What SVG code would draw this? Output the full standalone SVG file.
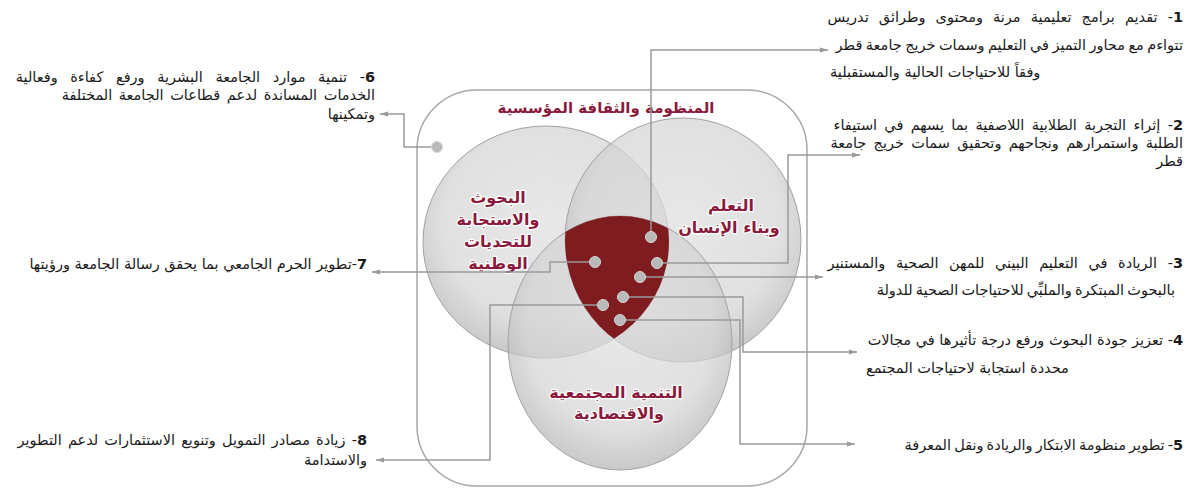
<svg xmlns="http://www.w3.org/2000/svg" width="1196" height="490" viewBox="0 0 1196 490">
<defs>
<style>
.side{font-family:"DejaVu Sans",sans-serif;font-size:14.5px;fill:#1a1a1a}
.num{font-weight:bold}
.lbl{font-family:"DejaVu Sans",sans-serif;font-weight:bold;font-size:16px;fill:#8a1a3c;stroke:#ffffff;stroke-width:2.5;paint-order:stroke;stroke-linejoin:round;text-anchor:middle}
.ttl{font-size:15px}
.con{fill:none;stroke:#9a9a9a;stroke-width:1.5}
.dot{fill:#b9b9b9;stroke:#d6d6d6;stroke-width:1}
.circ{fill:url(#gC);fill-opacity:0.7;stroke:#a2a2a2;stroke-width:1}
</style>
<radialGradient id="gC" cx="0.5" cy="0.42" r="0.58">
<stop offset="0" stop-color="#dedede"/>
<stop offset="0.72" stop-color="#d3d3d3"/>
<stop offset="1" stop-color="#b2b2b2"/>
</radialGradient>
<marker id="ah" markerWidth="8" markerHeight="6" refX="8" refY="3" orient="auto" markerUnits="userSpaceOnUse">
<path d="M0,0.5 L8,3 L0,5.5 z" fill="#9a9a9a"/>
</marker>
<clipPath id="cL"><ellipse cx="546" cy="242" rx="123" ry="116"/></clipPath>
<clipPath id="cR"><ellipse cx="683" cy="240" rx="118" ry="122"/></clipPath>
</defs>
<rect width="1196" height="490" fill="#ffffff"/>

<g id="frame">
<rect x="417" y="90" width="390" height="396" rx="60" ry="60" fill="none" stroke="#a8a8a8" stroke-width="1.5"/>
<text class="lbl ttl" x="606" y="113">المنظومة والثقافة المؤسسية</text>
</g>

<g id="circle-research">
<ellipse class="circ" cx="546" cy="242" rx="123" ry="116"/>
</g>
<g id="circle-learning">
<ellipse class="circ" cx="683" cy="240" rx="118" ry="122"/>
</g>
<g id="circle-community">
<ellipse class="circ" cx="620" cy="343" rx="112" ry="127"/>
</g>
<g id="core">
<g clip-path="url(#cL)"><g clip-path="url(#cR)">
<ellipse cx="620" cy="343" rx="112" ry="127" fill="#7f1c1f"/>
</g></g>
</g>
<g id="labels">
<text class="lbl" x="498" y="203">البحوث</text>
<text class="lbl" x="498" y="225">والاستجابة</text>
<text class="lbl" x="498" y="247">للتحديات</text>
<text class="lbl" x="498" y="269">الوطنية</text>
<text class="lbl" x="731" y="211">التعلم</text>
<text class="lbl" x="729" y="233">وبناء الإنسان</text>
<text class="lbl" x="616" y="398">التنمية المجتمعية</text>
<text class="lbl" x="619" y="419">والاقتصادية</text>
</g>

<g id="connectors">
<path class="con" d="M651,237 V50 H828" marker-end="url(#ah)"/>
<path class="con" d="M657,263 H788 V155 H860" marker-end="url(#ah)"/>
<path class="con" d="M640,277 H823" marker-end="url(#ah)"/>
<path class="con" d="M623,297 H743 V352 H857" marker-end="url(#ah)"/>
<path class="con" d="M620,320 H740 V444 H855" marker-end="url(#ah)"/>
<path class="con" d="M437,147 H404 V114 H380" marker-end="url(#ah)"/>
<path class="con" d="M595,262 H550 V272 H372" marker-end="url(#ah)"/>
<path class="con" d="M603,305 H490 V460 H376" marker-end="url(#ah)"/>
</g>

<g id="dots">
<circle class="dot" cx="651" cy="237" r="5.5"/>
<circle class="dot" cx="657" cy="263" r="5.5"/>
<circle class="dot" cx="640" cy="277" r="5.5"/>
<circle class="dot" cx="623" cy="297" r="5.5"/>
<circle class="dot" cx="620" cy="320" r="5.5"/>
<circle class="dot" cx="603" cy="305" r="5.5"/>
<circle class="dot" cx="595" cy="262" r="5.5"/>
<circle class="dot" cx="437" cy="147" r="5.5"/>
</g>

<g id="item1">
<text class="side" direction="rtl" text-anchor="start" x="1183" y="22" word-spacing="5.5"><tspan class="num">1</tspan>- تقديم برامج تعليمية مرنة ومحتوى وطرائق تدريس</text>
<text class="side" direction="rtl" text-anchor="start" x="1183" y="50" word-spacing="-1.2">تتواءم مع محاور التميز في التعليم وسمات خريج جامعة قطر</text>
<text class="side" direction="rtl" text-anchor="end" x="830" y="77">وفقاً للاحتياجات الحالية والمستقبلية</text>
</g>
<g id="item2">
<text class="side" direction="rtl" text-anchor="start" x="1183" y="130" word-spacing="2.7"><tspan class="num">2</tspan>- إثراء التجربة الطلابية اللاصفية بما يسهم في استيفاء</text>
<text class="side" direction="rtl" text-anchor="start" x="1183" y="148" word-spacing="2.7">الطلبة واستمرارهم ونجاحهم وتحقيق سمات خريج جامعة</text>
<text class="side" direction="rtl" text-anchor="start" x="1183" y="166">قطر</text>
</g>
<g id="item3">
<text class="side" direction="rtl" text-anchor="start" x="1183" y="268" word-spacing="6"><tspan class="num">3</tspan>- الريادة في التعليم البيني للمهن الصحية والمستنير</text>
<text class="side" direction="rtl" text-anchor="start" x="1175" y="295" word-spacing="-1.5">بالبحوث المبتكرة والملبِّي للاحتياجات الصحية للدولة</text>
</g>
<g id="item4">
<text class="side" direction="rtl" text-anchor="start" x="1183" y="345"><tspan class="num">4</tspan>- تعزيز جودة البحوث ورفع درجة تأثيرها في مجالات</text>
<text class="side" direction="rtl" text-anchor="end" x="866" y="373">محددة استجابة لاحتياجات المجتمع</text>
</g>
<g id="item5">
<text class="side" direction="rtl" text-anchor="start" x="1183" y="450" font-size="13.5" word-spacing="-1.5"><tspan class="num">5</tspan>- تطوير منظومة الابتكار والريادة ونقل المعرفة</text>
</g>
<g id="item6">
<text class="side" direction="rtl" text-anchor="start" x="375" y="82" word-spacing="8"><tspan class="num">6</tspan>- تنمية موارد الجامعة البشرية ورفع كفاءة وفعالية</text>
<text class="side" direction="rtl" text-anchor="start" x="375" y="100" word-spacing="2">الخدمات المساندة لدعم قطاعات الجامعة المختلفة</text>
<text class="side" direction="rtl" text-anchor="start" x="375" y="119">وتمكينها</text>
</g>
<g id="item7">
<text class="side" direction="rtl" text-anchor="start" x="367" y="269"><tspan class="num">7</tspan>-تطوير الحرم الجامعي بما يحقق رسالة الجامعة ورؤيتها</text>
</g>
<g id="item8">
<text class="side" direction="rtl" text-anchor="start" x="367" y="445" word-spacing="1.5"><tspan class="num">8</tspan>- زيادة مصادر التمويل وتنويع الاستثمارات لدعم التطوير</text>
<text class="side" direction="rtl" text-anchor="start" x="367" y="465">والاستدامة</text>
</g>
</svg>
